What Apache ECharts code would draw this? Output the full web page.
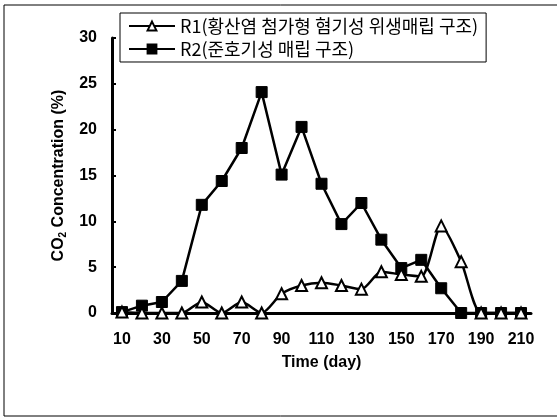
<!DOCTYPE html>
<html><head><meta charset="utf-8">
<script src="https://cdn.jsdelivr.net/npm/echarts@6/dist/echarts.min.js"></script>
<style>html,body{margin:0;padding:0;background:#fff}#c{width:557px;height:418px}</style>
</head><body><div id="c"></div>
<script>
const days = [10,20,30,40,50,60,70,80,90,100,110,120,130,140,150,160,170,180,190,200,210];
const r1Name = 'R1(황산염 첨가형 혐기성 위생매립 구조)';
const r2Name = 'R2(준호기성 매립 구조)';
const r1 = [0.1,0,0,0,1.2,0,1.2,0,2.1,3.0,3.3,3.0,2.6,4.5,4.2,4.0,9.5,5.6,0,0,0];
const r2 = [0.1,0.8,1.2,3.5,11.8,14.4,18.0,24.1,15.1,20.3,14.1,9.7,12.0,8.0,4.9,5.8,2.7,0,0,0,0];
const yTicks = [0,5,10,15,20,25,30];

const chart = echarts.init(document.getElementById('c'), null, {renderer:'canvas'});
const font = 'Liberation Sans, Arial, sans-serif';
chart.setOption({
  animation:false,
  backgroundColor:'#fff',
  grid:{left:112,right:26,top:38,bottom:105},
  legend:{
    orient:'vertical', left:120, top:13, itemWidth:46, itemHeight:11, itemGap:5,
    padding:[4,8,4,8], borderColor:'#000', borderWidth:1,
    textStyle:{fontFamily:'Noto Sans CJK KR, sans-serif', fontSize:18, color:'#000'},
    data:[r1Name, r2Name]
  },
  xAxis:{
    type:'category', data:days, boundaryGap:true,
    name:'Time (day)', nameLocation:'middle', nameGap:42,
    nameTextStyle:{fontFamily:font, fontSize:16, fontWeight:'bold', color:'#000'},
    axisLine:{lineStyle:{color:'#000', width:3}},
    axisTick:{inside:true, alignWithLabel:true, interval:0, length:4, lineStyle:{color:'#000', width:2}},
    axisLabel:{interval:1, margin:19, fontFamily:font, fontSize:16, fontWeight:'bold', color:'#000'},
    splitLine:{show:false}
  },
  yAxis:{
    type:'value', min:0, max:30, interval:5,
    name:'{a|CO}{s|2}{a| Concentration (%)}', nameLocation:'middle', nameGap:43,
    nameTextStyle:{rich:{a:{fontFamily:font, fontSize:16, fontWeight:'bold', color:'#000'}, s:{fontFamily:font, fontSize:10, fontWeight:'bold', color:'#000', verticalAlign:'bottom', padding:[9,0,0,0]}}},
    axisLine:{show:true, lineStyle:{color:'#000', width:3}},
    axisTick:{show:true, inside:true, length:4, lineStyle:{color:'#000', width:2}},
    axisLabel:{margin:15, fontFamily:font, fontSize:16, fontWeight:'bold', color:'#000', formatter:v=>yTicks.includes(v)?String(v):''},
    splitLine:{show:false}
  },
  series:[
    {name:r1Name, type:'line', data:r1, smooth:0.25, symbol:'triangle', symbolSize:11,
     lineStyle:{color:'#000', width:2.5}, itemStyle:{color:'#fff', borderColor:'#000', borderWidth:2}, z:3},
    {name:r2Name, type:'line', data:r2, smooth:false, symbol:'rect', symbolSize:11,
     lineStyle:{color:'#000', width:2.5}, itemStyle:{color:'#000', borderColor:'#000', borderWidth:1}, z:2}
  ],
  graphic:[
    {type:'line', shape:{x1:4,y1:5,x2:557,y2:5}, style:{stroke:'#000', lineWidth:1}},
    {type:'line', shape:{x1:4,y1:5,x2:4,y2:416}, style:{stroke:'#000', lineWidth:1}},
    {type:'line', shape:{x1:4,y1:416,x2:557,y2:416}, style:{stroke:'#000', lineWidth:1}}
  ]
});
</script></body></html>
